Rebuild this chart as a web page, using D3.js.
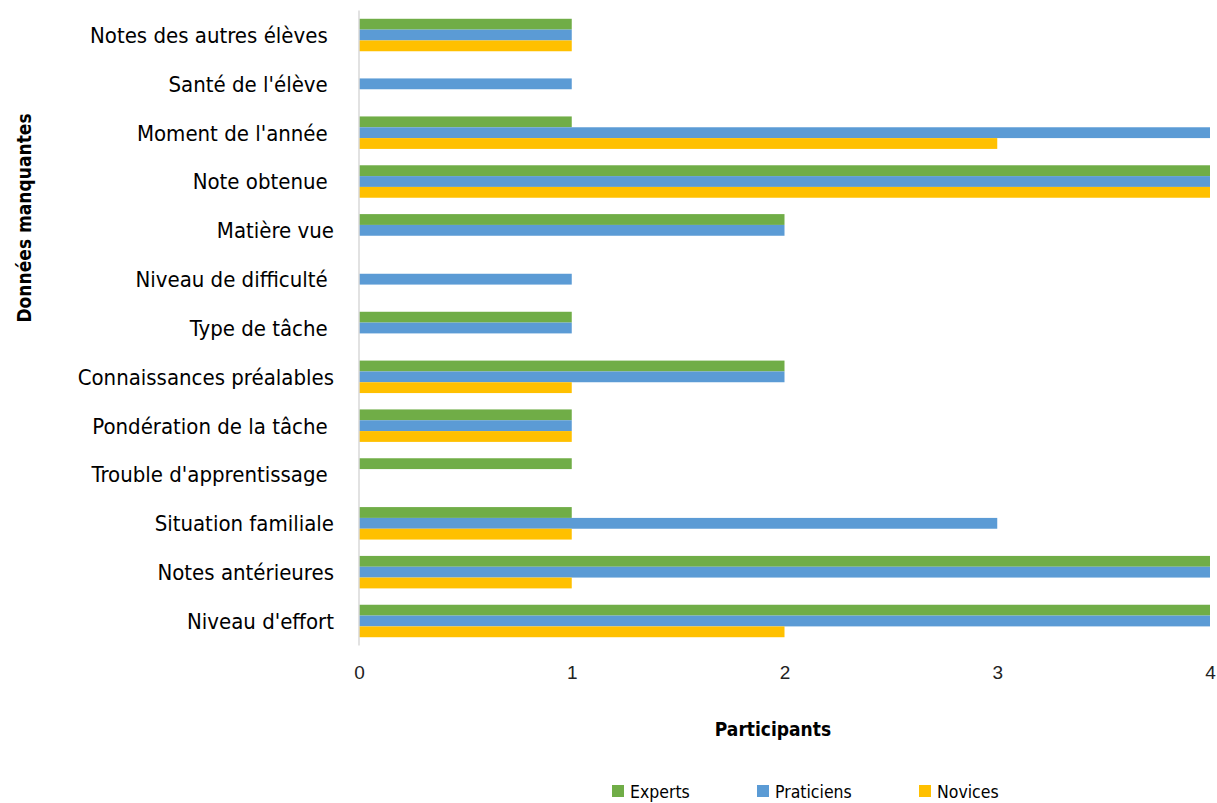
<!DOCTYPE html>
<html><head><meta charset="utf-8">
<script src="https://cdn.jsdelivr.net/npm/d3@7"></script>
<style>
body{margin:0;background:#fff;}
.cond{font-family:"DejaVu Sans Condensed","Liberation Sans Narrow",sans-serif;white-space:pre;}
</style></head>
<body><svg id="c" width="1217" height="803"></svg>
<script>
const categories = ["Notes des autres élèves ","Santé de l'élève ","Moment de l'année ","Note obtenue ","Matière vue","Niveau de difficulté ","Type de tâche ","Connaissances préalables","Pondération de la tâche ","Trouble d'apprentissage ","Situation familiale","Notes antérieures","Niveau d'effort"];
const seriesNames = ["Experts","Praticiens","Novices"];
const experts    = [1,0,1,4,2,0,1,2,1,1,1,4,4];
const praticiens = [1,1,4,4,2,1,1,2,1,0,3,4,4];
const novices    = [1,0,3,4,0,0,0,1,1,0,1,1,2];
const colors = ["#70ad47","#5b9bd5","#ffc000"];
const xTicks = [0,1,2,3,4];
const seriesValues = [experts, praticiens, novices];

const svg = d3.select("#c");
const mLeft = 359, mRight = 1210, mTop = 10.6, mBottom = 645.4;
const x = d3.scaleLinear().domain([0,4]).range([mLeft,mRight]);
const y = d3.scaleBand().domain(categories).range([mTop,mBottom]).paddingInner(0.335).paddingOuter(0.1675);
const ySub = d3.scaleBand().domain(seriesNames).range([0,y.bandwidth()]);

const g = svg.append("g");
categories.forEach((c,i)=>{
  seriesNames.forEach((s,j)=>{
    const v = seriesValues[j][i];
    if(v>0){
      g.append("rect").attr("x",x(0)).attr("y",y(c)+ySub(s))
        .attr("width",x(v)-x(0)).attr("height",ySub.bandwidth())
        .attr("fill",colors[j]);
    }
  });
});

svg.append("line").attr("x1",mLeft).attr("x2",mLeft).attr("y1",mTop).attr("y2",mBottom)
  .attr("stroke","#d9d9d9").attr("stroke-width",1.5);

svg.append("g").selectAll("text").data(categories).join("text")
  .attr("class","cond")
  .attr("x",334).attr("y",d=>y(d)+y.bandwidth()/2).attr("dy","0.36em")
  .attr("text-anchor","end").style("font-size","22px").attr("fill","#000")
  .text(d=>d);

const xAxis = d3.axisBottom(x).tickValues(xTicks).tickSize(0).tickPadding(0).tickFormat(d3.format("d"));
const ax = svg.append("g").attr("transform","translate(0,665)").call(xAxis);
ax.select(".domain").remove();
ax.selectAll("text").attr("dy","0.71em").style("font-family","'Liberation Sans', Arial, sans-serif").style("font-size","19px").attr("fill","#222");

svg.append("text").attr("class","cond").attr("x",773).attr("y",736).attr("text-anchor","middle")
  .style("font-size","19px").attr("font-weight","bold").attr("fill","#000").text("Participants");
svg.append("text").attr("class","cond").attr("transform","translate(31,218) rotate(-90)").attr("text-anchor","middle")
  .style("font-size","19px").attr("font-weight","bold").attr("fill","#000").text("Données manquantes");

const legX = [612,757,919];
seriesNames.forEach((s,j)=>{
  svg.append("rect").attr("x",legX[j]).attr("y",785).attr("width",12).attr("height",12).attr("fill",colors[j]);
  svg.append("text").attr("class","cond").attr("x",legX[j]+18).attr("y",798)
    .style("font-size","17.5px").attr("fill","#000").text(s);
});
</script></body></html>
